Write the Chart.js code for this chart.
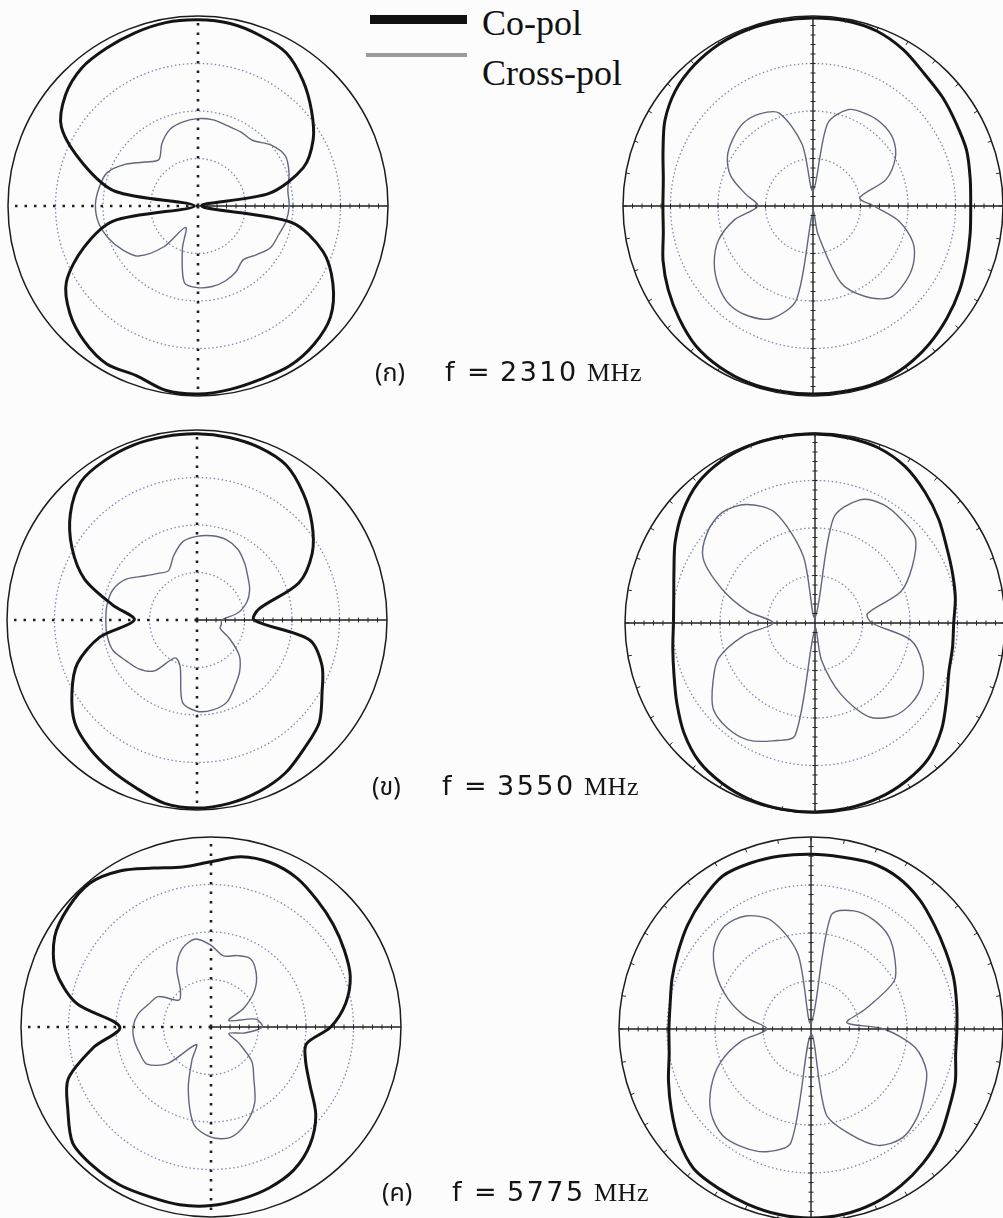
<!DOCTYPE html>
<html>
<head>
<meta charset="utf-8">
<title>Co-pol / Cross-pol patterns</title>
<script src="https://cdn.jsdelivr.net/npm/chart.js@4.4.1/dist/chart.umd.min.js"></script>
<style>
  body { margin: 0; width: 1003px; height: 1218px; overflow: hidden; position: relative; background: #fcfcfd; }
  canvas.pattern { position: absolute; }
  .bar { position: absolute; }
  .legend-text { position: absolute; left: 482px; font-family: "Liberation Serif", "Times New Roman", serif; font-size: 36px; line-height: 1; color: #111; white-space: nowrap; }
  .caption { position: absolute; white-space: nowrap; line-height: 30px; height: 30px; color: #151515; }
  .caption span { display: inline-block; }
  .th { font-family: "Noto Sans Thai", "Noto Serif Thai", "Loma", "Garuda", "Norasi", "Tlwg Typo", sans-serif; font-size: 25px; width: 70px; }
  .fs { font-family: "DejaVu Sans", sans-serif; font-size: 27px; }
  .num { font-family: "DejaVu Sans", sans-serif; font-size: 27px; letter-spacing: 2.5px; width: 87px; }
  .mhz { font-family: "Liberation Serif", "Times New Roman", serif; font-size: 26px; letter-spacing: 0.5px; }
</style>
</head>
<body>

<div class="bar" style="left:370px; top:15px; width:97px; height:9px; background:#111;"></div>
<div class="bar" style="left:366px; top:53px; width:101px; height:4px; background:#9b9b9b;"></div>
<div class="legend-text" style="top:5px;">Co-pol</div>
<div class="legend-text" style="top:55px;">Cross-pol</div>

<canvas class="pattern" id="p2310a" width="388" height="388" style="left:4px; top:12px;"></canvas>
<canvas class="pattern" id="p2310b" width="388" height="388" style="left:619px; top:12px;"></canvas>
<canvas class="pattern" id="p3550a" width="388" height="388" style="left:3px; top:426px;"></canvas>
<canvas class="pattern" id="p3550b" width="388" height="388" style="left:621px; top:429px;"></canvas>
<canvas class="pattern" id="p5775a" width="388" height="388" style="left:17px; top:833px;"></canvas>
<canvas class="pattern" id="p5775b" width="392" height="392" style="left:615px; top:833px;"></canvas>

<div class="caption" style="left:375px; top:357px;"><span class="th">(ก)</span><span class="fs" style="width:22px;">f</span><span class="fs" style="width:33px;">=</span><span class="num">2310</span><span class="mhz">MHz</span></div>
<div class="caption" style="left:372px; top:771px;"><span class="th">(ข)</span><span class="fs" style="width:22px;">f</span><span class="fs" style="width:33px;">=</span><span class="num">3550</span><span class="mhz">MHz</span></div>
<div class="caption" style="left:382px; top:1177px;"><span class="th">(ค)</span><span class="fs" style="width:22px;">f</span><span class="fs" style="width:33px;">=</span><span class="num">5775</span><span class="mhz">MHz</span></div>

<script>
// angles in degrees, clockwise from the top of each polar plot
const angles = [0, 10, 20, 30, 40, 50, 60, 70, 80, 90, 100, 110, 120, 130, 140, 150, 160, 170,
                180, 190, 200, 210, 220, 230, 240, 250, 260, 270, 280, 290, 300, 310, 320, 330, 340, 350];

// normalized pattern amplitude (outer circle = 1), left column (a) and right column (b)
const co2310a = [0.98, 0.975, 0.955, 0.93, 0.86, 0.78, 0.70, 0.59, 0.38, 0.02, 0.50, 0.70, 0.82, 0.91, 0.95, 0.97, 0.97, 0.98,
                 0.99, 0.985, 0.95, 0.96, 0.93, 0.88, 0.80, 0.64, 0.45, 0.02, 0.44, 0.64, 0.83, 0.91, 0.95, 0.96, 0.97, 0.98];
const cross2310a = [0.46, 0.46, 0.45, 0.45, 0.45, 0.50, 0.53, 0.51, 0.48, 0.48, 0.47, 0.45, 0.44, 0.40, 0.37, 0.40, 0.42, 0.43,
                    0.43, 0.41, 0.24, 0.13, 0.28, 0.41, 0.46, 0.50, 0.53, 0.54, 0.53, 0.51, 0.44, 0.36, 0.32, 0.38, 0.43, 0.45];
const co2310b = [0.99, 0.99, 0.98, 0.95, 0.91, 0.89, 0.87, 0.86, 0.84, 0.83, 0.84, 0.86, 0.89, 0.92, 0.95, 0.975, 0.99, 0.99,
                 0.99, 0.99, 0.99, 0.98, 0.96, 0.92, 0.88, 0.84, 0.80, 0.79, 0.80, 0.84, 0.90, 0.945, 0.97, 0.985, 0.99, 0.99];
const cross2310b = [0.08, 0.44, 0.54, 0.56, 0.565, 0.55, 0.50, 0.41, 0.25, 0.32, 0.46, 0.56, 0.61, 0.63, 0.63, 0.55, 0.43, 0.15,
                    0.03, 0.50, 0.63, 0.67, 0.68, 0.65, 0.60, 0.53, 0.42, 0.29, 0.36, 0.46, 0.52, 0.55, 0.57, 0.56, 0.52, 0.33];

const co3550a = [0.98, 0.975, 0.965, 0.94, 0.87, 0.79, 0.70, 0.57, 0.33, 0.30, 0.60, 0.70, 0.76, 0.84, 0.88, 0.93, 0.96, 0.98,
                 0.99, 0.98, 0.94, 0.91, 0.88, 0.84, 0.76, 0.67, 0.52, 0.33, 0.45, 0.63, 0.76, 0.87, 0.95, 0.97, 0.98, 0.98];
const cross3550a = [0.44, 0.45, 0.45, 0.43, 0.39, 0.35, 0.32, 0.28, 0.22, 0.13, 0.13, 0.13, 0.20, 0.29, 0.35, 0.40, 0.46, 0.48,
                    0.48, 0.44, 0.26, 0.23, 0.35, 0.40, 0.43, 0.47, 0.48, 0.48, 0.48, 0.47, 0.43, 0.36, 0.32, 0.30, 0.36, 0.42];
const co3550b = [0.995, 0.99, 0.98, 0.95, 0.90, 0.85, 0.80, 0.77, 0.75, 0.73, 0.735, 0.75, 0.80, 0.87, 0.93, 0.96, 0.98, 0.99,
                 0.995, 0.995, 0.99, 0.975, 0.95, 0.90, 0.84, 0.79, 0.76, 0.745, 0.755, 0.79, 0.85, 0.91, 0.96, 0.985, 0.995, 0.995];
const cross3550b = [0.03, 0.56, 0.69, 0.72, 0.71, 0.69, 0.59, 0.48, 0.28, 0.30, 0.51, 0.60, 0.65, 0.66, 0.64, 0.57, 0.40, 0.20,
                    0.03, 0.60, 0.66, 0.71, 0.72, 0.70, 0.62, 0.54, 0.38, 0.22, 0.36, 0.52, 0.68, 0.74, 0.76, 0.72, 0.62, 0.36];

const co5775a = [0.87, 0.91, 0.92, 0.905, 0.87, 0.84, 0.81, 0.78, 0.72, 0.63, 0.51, 0.53, 0.60, 0.72, 0.81, 0.87, 0.90, 0.92,
                 0.94, 0.95, 0.95, 0.96, 0.96, 0.95, 0.87, 0.80, 0.63, 0.48, 0.72, 0.87, 0.95, 0.98, 0.99, 0.95, 0.89, 0.855];
const cross5775a = [0.43, 0.38, 0.40, 0.415, 0.37, 0.30, 0.20, 0.10, 0.24, 0.27, 0.18, 0.10, 0.17, 0.28, 0.35, 0.46, 0.54, 0.59,
                    0.58, 0.52, 0.35, 0.20, 0.12, 0.30, 0.39, 0.40, 0.41, 0.41, 0.39, 0.35, 0.32, 0.22, 0.25, 0.36, 0.44, 0.47];
const co5775b = [0.91, 0.91, 0.92, 0.91, 0.88, 0.84, 0.81, 0.79, 0.77, 0.76, 0.765, 0.80, 0.83, 0.875, 0.91, 0.94, 0.965, 0.98,
                 0.985, 0.98, 0.97, 0.96, 0.95, 0.90, 0.84, 0.79, 0.75, 0.74, 0.745, 0.77, 0.80, 0.84, 0.88, 0.92, 0.92, 0.915];
const cross5775b = [0.03, 0.60, 0.655, 0.655, 0.63, 0.57, 0.50, 0.30, 0.19, 0.38, 0.55, 0.64, 0.68, 0.72, 0.74, 0.70, 0.58, 0.45,
                    0.03, 0.60, 0.68, 0.71, 0.72, 0.68, 0.60, 0.50, 0.37, 0.23, 0.34, 0.46, 0.57, 0.66, 0.70, 0.68, 0.60, 0.40];

const coColor = "#141414";
const crossColor = "#62667a";
const ringColor = "#8088ad";
const axisIndex = [0, 9, 18, 27]; // top, right, bottom, left

// small tick marks on the axes (and on the rim for the right column)
const axisTicks = {
  id: "axisTicks",
  afterDraw(chart, args, opts) {
    const scale = chart.scales.r;
    const ctx = chart.ctx;
    ctx.save();
    ctx.strokeStyle = "#262626";
    ctx.lineWidth = 1;
    ctx.beginPath();
    opts.halves.forEach(function(idx) {
      const a = scale.getIndexAngle(idx) - Math.PI / 2;
      const nx = -Math.sin(a), ny = Math.cos(a);
      for (let k = 1; k < 20; k++) {
        const p = scale.getPointPosition(idx, scale.drawingArea * k / 20);
        ctx.moveTo(p.x - nx * 2.5, p.y - ny * 2.5);
        ctx.lineTo(p.x + nx * 2.5, p.y + ny * 2.5);
      }
    });
    if (opts.rim) {
      for (let i = 0; i < angles.length; i++) {
        const p1 = scale.getPointPosition(i, scale.drawingArea);
        const p2 = scale.getPointPosition(i, scale.drawingArea - 4);
        ctx.moveTo(p1.x, p1.y);
        ctx.lineTo(p2.x, p2.y);
      }
    }
    ctx.stroke();
    ctx.restore();
  }
};

function makePattern(canvasId, co, cross, solidAxes) {
  const canvas = document.getElementById(canvasId);
  return new Chart(canvas, {
    type: "radar",
    data: {
      labels: angles,
      datasets: [
        { label: "Co-pol", data: co, borderColor: coColor, borderWidth: 3, pointRadius: 0, fill: false, tension: 0.3 },
        { label: "Cross-pol", data: cross, borderColor: crossColor, borderWidth: 1.4, pointRadius: 0, fill: false, tension: 0.3 }
      ]
    },
    options: {
      responsive: false,
      animation: false,
      layout: { padding: 4 },
      plugins: {
        legend: { display: false },
        tooltip: { enabled: false },
        axisTicks: { halves: solidAxes ? axisIndex : [9], rim: solidAxes }
      },
      scales: {
        r: {
          min: 0,
          max: 1,
          ticks: { display: false, stepSize: 0.25 },
          pointLabels: { display: false },
          grid: {
            circular: true,
            color: (c) => c.index === 4 ? "#1c1c1c" : ringColor,
            lineWidth: (c) => c.index === 4 ? 1.5 : 1.3
          },
          border: { dash: (c) => c.index === 4 ? [] : [1.5, 2.5] },
          angleLines: {
            color: (c) => axisIndex.includes(c.index) ? "#1e1e1e" : "rgba(0,0,0,0)",
            lineWidth: (c) => {
              if (!axisIndex.includes(c.index)) return 0;
              return (solidAxes || c.index === 9) ? 1.4 : 2.6;
            },
            borderDash: (c) => (solidAxes || c.index === 9) ? [] : [2.5, 7]
          }
        }
      }
    },
    plugins: [axisTicks]
  });
}

makePattern("p2310a", co2310a, cross2310a, false);
makePattern("p2310b", co2310b, cross2310b, true);
makePattern("p3550a", co3550a, cross3550a, false);
makePattern("p3550b", co3550b, cross3550b, true);
makePattern("p5775a", co5775a, cross5775a, false);
makePattern("p5775b", co5775b, cross5775b, true);
</script>
</body>
</html>
